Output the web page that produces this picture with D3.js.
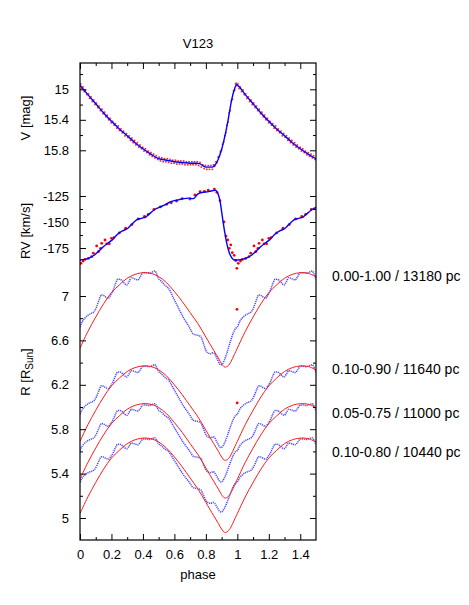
<!DOCTYPE html>
<html>
<head>
<meta charset="utf-8">
<script src="https://cdn.jsdelivr.net/npm/d3@7"></script>
<style>
  body { margin: 0; background: #fff; }
  svg { display: block; font-family: "Liberation Sans", Arial, sans-serif; }
</style>
</head>
<body>
<div class="container"></div>
<script>
// DATA (phase 0-1, folded again up to 1.5 when drawn)

// V light curve: fit and observations
const vFit = [
  [0.00,14.945],[0.05,15.07],[0.10,15.19],[0.15,15.31],[0.20,15.42],[0.25,15.52],[0.30,15.61],
  [0.35,15.70],[0.40,15.78],[0.45,15.85],[0.50,15.91],[0.55,15.93],[0.60,15.95],[0.65,15.96],
  [0.70,15.97],[0.74,15.97],[0.76,15.975],[0.78,16.00],[0.80,16.02],[0.84,16.02],[0.86,15.99],
  [0.88,15.91],[0.90,15.79],[0.92,15.62],[0.94,15.42],[0.96,15.18],[0.98,15.01],[0.995,14.94]
];
const vObs = [
  [0.004,14.93],[0.011,14.99],[0.019,14.97],[0.027,15.03],[0.036,15.01],[0.044,15.07],[0.053,15.06],
  [0.061,15.12],[0.070,15.10],[0.078,15.16],[0.087,15.14],[0.095,15.20],[0.104,15.18],[0.113,15.24],
  [0.121,15.22],[0.130,15.28],[0.139,15.26],[0.147,15.32],[0.156,15.30],[0.165,15.36],[0.173,15.34],
  [0.182,15.40],[0.191,15.38],[0.199,15.44],[0.208,15.42],[0.217,15.47],[0.225,15.45],[0.234,15.51],
  [0.243,15.48],[0.251,15.54],[0.260,15.52],[0.269,15.57],[0.277,15.55],[0.286,15.61],[0.295,15.58],
  [0.303,15.63],[0.312,15.61],[0.321,15.67],[0.329,15.64],[0.338,15.70],[0.347,15.67],[0.355,15.73],
  [0.364,15.70],[0.373,15.76],[0.381,15.73],[0.390,15.78],[0.399,15.76],[0.407,15.81],[0.416,15.78],
  [0.425,15.83],[0.433,15.81],[0.442,15.86],[0.451,15.83],[0.459,15.88],[0.468,15.85],[0.477,15.90],
  [0.485,15.87],[0.494,15.92],[0.503,15.89],[0.511,15.94],[0.520,15.90],[0.529,15.95],[0.537,15.91],
  [0.546,15.95],[0.555,15.91],[0.563,15.96],[0.572,15.92],[0.581,15.97],[0.589,15.93],[0.598,15.97],
  [0.607,15.93],[0.615,15.98],[0.624,15.94],[0.633,15.98],[0.641,15.94],[0.650,15.98],[0.659,15.94],
  [0.667,15.99],[0.676,15.95],[0.685,15.99],[0.693,15.95],[0.702,15.99],[0.711,15.95],[0.719,15.99],
  [0.728,15.95],[0.737,15.99],[0.745,15.95],[0.754,16.00],[0.763,15.96],[0.771,16.02],[0.780,15.99],
  [0.789,16.04],[0.797,16.00],[0.806,16.05],[0.815,16.00],[0.823,16.05],[0.832,16.00],[0.841,16.05],
  [0.849,15.99],[0.856,16.01],[0.864,15.95],[0.871,15.96],[0.878,15.89],[0.885,15.88],[0.892,15.82],
  [0.899,15.80],[0.906,15.72],[0.913,15.69],[0.920,15.61],[0.927,15.57],[0.934,15.47],[0.941,15.43],
  [0.948,15.31],[0.955,15.28],[0.962,15.15],[0.969,15.13],[0.976,15.02],[0.983,15.01],[0.989,14.93],
  [0.994,14.92],[0.998,14.95]
];

// radial velocity: fit and observations (km/s)
const rvFit = [
  [0.00,-186.5],[0.03,-186],[0.06,-184.5],[0.09,-182],[0.12,-178],[0.15,-173.5],[0.18,-170],
  [0.21,-166.5],[0.24,-161.5],[0.27,-158.5],[0.30,-156.5],[0.33,-152],[0.36,-148],[0.39,-146.5],
  [0.42,-145],[0.45,-141],[0.48,-137.5],[0.51,-135.5],[0.54,-133.5],[0.57,-131],[0.60,-129.5],
  [0.63,-128.5],[0.66,-127.5],[0.69,-127],[0.72,-127.5],[0.75,-123],[0.78,-121.5],[0.81,-121],
  [0.84,-120],[0.86,-119.5],[0.875,-122],[0.89,-130],[0.905,-145],[0.92,-160],[0.935,-172],
  [0.95,-180],[0.965,-184.5],[0.98,-186.5]
];
const rvObs = [
  [0.006,-189.7],[0.020,-187.5],[0.032,-186.0],[0.053,-185.0],[0.074,-183.3],[0.085,-180.0],
  [0.106,-173.0],[0.117,-178.5],[0.131,-175.3],[0.138,-170.5],[0.159,-167.3],[0.170,-171.0],
  [0.186,-171.0],[0.200,-165.7],[0.215,-165.0],[0.250,-160.5],[0.290,-156.0],[0.330,-152.5],
  [0.370,-147.0],[0.410,-144.5],[0.434,-142.6],[0.470,-138.0],[0.510,-135.5],[0.551,-133.0],
  [0.580,-131.5],[0.614,-129.8],[0.650,-127.5],[0.699,-127.9],[0.730,-124.0],[0.763,-120.9],
  [0.790,-120.5],[0.815,-119.3],[0.854,-118.3],[0.870,-121.5],[0.890,-129.5],[0.915,-150.0],
  [0.928,-163.5],[0.939,-167.3],[0.949,-175.3],[0.958,-172.0],[0.968,-179.5],[0.980,-182.0],
  [0.990,-187.0],[0.997,-194.5],[0.998,-234.0],[0.999,-324.0]
];

// radius from angular diameter at 13180 pc (blue points)
const rDiameter = [
  [0.000,6.72],[0.015,6.77],[0.030,6.80],[0.045,6.82],[0.060,6.835],[0.075,6.845],[0.090,6.86],
  [0.105,6.90],[0.120,6.96],[0.136,7.01],[0.150,7.005],[0.165,6.99],[0.180,6.98],[0.195,7.01],
  [0.210,7.05],[0.225,7.11],[0.240,7.15],[0.255,7.15],[0.270,7.135],[0.285,7.11],[0.298,7.10],
  [0.312,7.13],[0.326,7.165],[0.340,7.16],[0.355,7.15],[0.368,7.145],[0.382,7.17],[0.400,7.21],
  [0.420,7.21],[0.440,7.205],[0.458,7.215],[0.475,7.225],[0.487,7.20],[0.497,7.16],[0.512,7.14],
  [0.528,7.115],[0.544,7.09],[0.559,7.075],[0.575,7.04],[0.591,6.99],[0.607,6.945],[0.623,6.90],
  [0.639,6.855],[0.655,6.81],[0.670,6.775],[0.686,6.74],[0.702,6.70],[0.718,6.66],[0.735,6.65],
  [0.752,6.645],[0.769,6.63],[0.785,6.57],[0.800,6.51],[0.816,6.485],[0.833,6.48],[0.845,6.49],
  [0.856,6.48],[0.866,6.45],[0.876,6.42],[0.886,6.39],[0.896,6.38],[0.906,6.39],[0.917,6.42],
  [0.930,6.47],[0.945,6.54],[0.960,6.61],[0.975,6.67],[0.990,6.71]
];
// radius from integrated RV, first fit (red line)
const rIntegrated = [
  [0.00,6.53],[0.05,6.68],[0.10,6.81],[0.15,6.93],[0.20,7.03],[0.25,7.10],[0.30,7.16],[0.35,7.195],
  [0.40,7.21],[0.45,7.205],[0.50,7.175],[0.55,7.12],[0.60,7.04],[0.65,6.95],[0.70,6.85],[0.75,6.75],
  [0.80,6.63],[0.85,6.51],[0.88,6.44],[0.90,6.39],[0.92,6.36],[0.94,6.37],[0.96,6.41],[0.98,6.47]
];

// fits: phase range / distance, and shift of the mean radius
const fitLabels = ["0.00-1.00 / 13180 pc", "0.10-0.90 / 11640 pc", "0.05-0.75 / 11000 pc", "0.10-0.80 / 10440 pc"];
const fitDistance = [13180, 11640, 11000, 10440];
const fitRadiusShift = [0, -0.84, -1.18, -1.49];

// ticks
const phaseMajor = [0, 0.2, 0.4, 0.6, 0.8, 1, 1.2, 1.4];
const phaseMinor = [0.1, 0.3, 0.5, 0.7, 0.9, 1.1, 1.3];
const vMajor = [15, 15.4, 15.8];
const vMinor = [14.8, 15.2, 15.6];
const rvMajor = [-125, -150, -175];
const rvMinor = [-137.5, -162.5];
const rMajor = [7, 6.6, 6.2, 5.8, 5.4, 5];
const rMinor = [6.8, 6.4, 6.0, 5.6, 5.2];

// SETUP
const W = 469, H = 605;
const frame = { left: 80, right: 316, top: 63, bottom: 540 };

const svg = d3.select(".container")
  .append("svg")
  .attr("width", W)
  .attr("height", H);

// SCALES
const x = d3.scaleLinear().domain([0, 1.5]).range([frame.left, frame.right]);
const yV = d3.scaleLinear().domain([15, 15.8]).range([89.3, 150.3]);
const yRV = d3.scaleLinear().domain([-125, -175]).range([196, 248]);
const yR = d3.scaleLinear().domain([7, 5]).range([296, 518]);

// repeat phase 0-0.5 after phase 1
function fold(rows, limit) {
  return rows.filter(d => d[0] < 1)
    .concat(rows.filter(d => d[0] + 1 <= limit).map(d => [d[0] + 1, d[1]]));
}

svg.append("clipPath").attr("id", "clipx")
  .append("rect")
  .attr("x", frame.left).attr("y", 0)
  .attr("width", frame.right - frame.left).attr("height", H);

const plot = svg.append("g").attr("clip-path", "url(#clipx)");

// R panel: blue dotted radius from diameter, red integrated radius
fitDistance.forEach(d => {
  const rows = fold(rDiameter, 1.52).map(p => [p[0], p[1] * d / fitDistance[0]]);
  plot.append("path")
    .datum(rows)
    .attr("fill", "none")
    .attr("stroke", "#2a2aff")
    .attr("stroke-width", 1.5)
    .attr("stroke-dasharray", "1.2 0.8")
    .attr("opacity", 0.85)
    .attr("d", d3.line().x(p => x(p[0])).y(p => yR(p[1])).curve(d3.curveMonotoneX));
});
fitRadiusShift.forEach(s => {
  const rows = fold(rIntegrated, 1.52).map(p => [p[0], p[1] + s]);
  plot.append("path")
    .datum(rows)
    .attr("fill", "none")
    .attr("stroke", "#ff1a1a")
    .attr("stroke-width", 1)
    .attr("d", d3.line().x(p => x(p[0])).y(p => yR(p[1])).curve(d3.curveCatmullRom.alpha(0.5)));
});

// V panel
plot.append("g")
  .selectAll("rect")
  .data(fold(vObs, 1.5))
  .join("rect")
  .attr("x", d => x(d[0]) - 0.8)
  .attr("y", d => yV(d[1]) - 0.8)
  .attr("width", 1.6)
  .attr("height", 1.6)
  .attr("fill", "#ff2020");

plot.append("path")
  .datum(fold(vFit, 1.52))
  .attr("fill", "none")
  .attr("stroke", "#0000ff")
  .attr("stroke-width", 1.4)
  .attr("d", d3.line().x(p => x(p[0])).y(p => yV(p[1])).curve(d3.curveMonotoneX));

// RV panel
plot.append("g")
  .selectAll("circle")
  .data(fold(rvObs, 1.5))
  .join("circle")
  .attr("cx", d => x(d[0]))
  .attr("cy", d => yRV(d[1]))
  .attr("r", 1.4)
  .attr("fill", "#ff0000");

plot.append("path")
  .datum(fold(rvFit, 1.53))
  .attr("fill", "none")
  .attr("stroke", "#0000ff")
  .attr("stroke-width", 1.4)
  .attr("d", d3.line().x(p => x(p[0])).y(p => yRV(p[1])).curve(d3.curveMonotoneX));

// AXES
const fmt = d => String(d);

function styleAxis(g) {
  g.select(".domain").remove();
  g.selectAll("line").attr("stroke", "#000").attr("stroke-width", 1);
  g.selectAll("text")
    .attr("fill", "#000")
    .attr("font-size", 13)
    .attr("font-family", "'Liberation Sans', Arial, sans-serif");
}

[[yV, vMajor, vMinor], [yRV, rvMajor, rvMinor], [yR, rMajor, rMinor]].forEach(([scale, major, minor]) => {
  svg.append("g")
    .attr("transform", `translate(${frame.left},0)`)
    .call(d3.axisLeft(scale).tickValues(major).tickSizeInner(-6).tickSizeOuter(0).tickPadding(11).tickFormat(fmt))
    .call(styleAxis);
  svg.append("g")
    .attr("transform", `translate(${frame.left},0)`)
    .call(d3.axisLeft(scale).tickValues(minor).tickSizeInner(-3).tickSizeOuter(0).tickFormat(""))
    .call(styleAxis);
  svg.append("g")
    .attr("transform", `translate(${frame.right},0)`)
    .call(d3.axisRight(scale).tickValues(major).tickSizeInner(-6).tickSizeOuter(0).tickFormat(""))
    .call(styleAxis);
  svg.append("g")
    .attr("transform", `translate(${frame.right},0)`)
    .call(d3.axisRight(scale).tickValues(minor).tickSizeInner(-3).tickSizeOuter(0).tickFormat(""))
    .call(styleAxis);
});

svg.append("g")
  .attr("transform", `translate(0,${frame.bottom})`)
  .call(d3.axisBottom(x).tickValues(phaseMajor).tickSizeInner(-6).tickSizeOuter(0).tickPadding(10).tickFormat(fmt))
  .call(styleAxis);
svg.append("g")
  .attr("transform", `translate(0,${frame.bottom})`)
  .call(d3.axisBottom(x).tickValues(phaseMinor).tickSizeInner(-3).tickSizeOuter(0).tickFormat(""))
  .call(styleAxis);
svg.append("g")
  .attr("transform", `translate(0,${frame.top})`)
  .call(d3.axisTop(x).tickValues(phaseMajor).tickSizeInner(-6).tickSizeOuter(0).tickFormat(""))
  .call(styleAxis);
svg.append("g")
  .attr("transform", `translate(0,${frame.top})`)
  .call(d3.axisTop(x).tickValues(phaseMinor).tickSizeInner(-3).tickSizeOuter(0).tickFormat(""))
  .call(styleAxis);

// FRAME
svg.append("rect")
  .attr("x", frame.left)
  .attr("y", frame.top)
  .attr("width", frame.right - frame.left)
  .attr("height", frame.bottom - frame.top)
  .attr("fill", "none")
  .attr("stroke", "#000")
  .attr("stroke-width", 1.2);

// TEXTS
svg.append("text")
  .attr("x", (frame.left + frame.right) / 2)
  .attr("y", 48)
  .attr("text-anchor", "middle")
  .attr("font-size", 13)
  .text("V123");

svg.append("text")
  .attr("x", (frame.left + frame.right) / 2)
  .attr("y", 579)
  .attr("text-anchor", "middle")
  .attr("font-size", 13)
  .text("phase");

const yLabels = [["V [mag]", 118], ["RV [km/s]", 231]];
yLabels.forEach(([t, cy]) => {
  svg.append("text")
    .attr("transform", `translate(25,${cy}) rotate(-90)`)
    .attr("text-anchor", "middle")
    .attr("dy", "0.35em")
    .attr("font-size", 13)
    .text(t);
});

const rLabel = svg.append("text")
  .attr("transform", "translate(25,372) rotate(-90)")
  .attr("text-anchor", "middle")
  .attr("dy", "0.35em")
  .attr("font-size", 13);
rLabel.append("tspan").text("R [R");
rLabel.append("tspan").attr("font-size", 10).attr("dy", 3).text("Sun");
rLabel.append("tspan").attr("dy", -3).text("]");

const labelY = [276, 369, 413, 452];
svg.append("g")
  .selectAll("text")
  .data(fitLabels)
  .join("text")
  .attr("x", 332)
  .attr("y", (d, i) => labelY[i])
  .attr("dy", "0.35em")
  .attr("font-size", 14)
  .text(d => d);
</script>
</body>
</html>
